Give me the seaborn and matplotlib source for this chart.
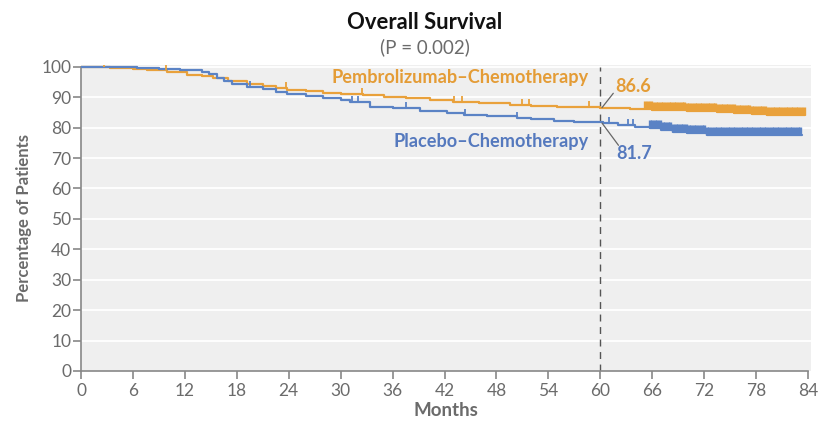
import numpy as np
import pandas as pd
import matplotlib
matplotlib.use("Agg")
import matplotlib.pyplot as plt
import seaborn as sns

# ---- data ----
pembro_months = [0, 3.3, 6, 7.6, 9.9, 12.2, 14, 15.3, 17, 19.2, 21, 22.5, 23.8, 26, 28, 30, 32.6, 35,
                 37.5, 40.3, 43, 46, 49.6, 52, 55, 57.5, 60, 62, 63.4, 66, 68, 70, 71.5, 73.5, 75.5,
                 77.5, 79.3, 83.6]
pembro_surv = [100, 99.7, 99.3, 99.0, 98.2, 97.4, 96.9, 96.3, 95.4, 94.3, 93.6, 92.9, 92.4, 91.9, 91.5,
               91.1, 90.8, 90.2, 89.6, 89.1, 88.6, 88.0, 87.5, 87.2, 86.9, 86.8, 86.6, 86.4, 86.1, 85.9,
               85.7, 85.5, 85.4, 85.1, 84.9, 84.6, 84.3, 84.3]

placebo_months = [0, 6.5, 9, 11.4, 14, 14.8, 15.7, 16.5, 17.5, 19.2, 21, 22.5, 23.8, 26, 28, 30, 31.1,
                  33.4, 36, 39.2, 42.3, 44.2, 46.9, 50.4, 52, 54.6, 57, 59.2, 60.3, 62, 64, 65.7, 67,
                  68.4, 70, 72.3, 83.3]
placebo_surv = [100, 99.5, 99.3, 99.0, 98.3, 97.5, 96.2, 95.2, 94.5, 93.5, 92.6, 91.8, 91.1, 90.5, 89.8,
                89.2, 88.4, 86.9, 86.6, 85.6, 84.7, 84.2, 83.7, 83.1, 82.7, 82.3, 82.0, 81.7, 81.4, 80.8,
                80.1, 79.8, 79.2, 78.7, 78.2, 77.7, 77.7]

# censoring times: sparse early marks and the dense cluster after ~65 months
pembro_censor_early = [2.7, 9.8, 23.7, 32.5, 43.1, 44.0, 51.0, 51.8, 58.7]
pembro_censor_late = [65.2, 65.5, 65.8, 66.1, 66.4, 66.7, 67.0, 67.3, 67.6, 67.9, 68.2, 68.5, 68.8, 69.1,
                      69.4, 69.7, 70.0, 70.3, 70.6, 70.9, 71.2, 71.5, 71.8, 72.1, 72.4, 72.7, 73.0, 73.3,
                      73.6, 73.9, 74.2, 74.5, 74.8, 75.1, 75.4, 75.7, 76.0, 76.3, 76.6, 76.9, 77.2, 77.5,
                      77.8, 78.1, 78.4, 78.7, 79.0, 79.3, 79.6, 79.9, 80.2, 80.5, 80.8, 81.1, 81.4, 81.7,
                      82.0, 82.3, 82.6, 82.9, 83.2, 83.5]
placebo_censor_early = [19.5, 31.3, 32.0, 37.5, 44.4, 50.4, 61.0, 63.2, 63.8]
placebo_censor_late = [65.7, 66.0, 66.3, 66.6, 66.9, 67.2, 67.5, 67.8, 68.1, 68.4, 68.7, 69.0, 69.3, 69.6,
                       69.9, 70.2, 70.5, 70.8, 71.1, 71.4, 71.7, 72.0, 72.3, 72.6, 72.9, 73.2, 73.5, 73.8,
                       74.1, 74.4, 74.7, 75.0, 75.3, 75.6, 75.9, 76.2, 76.5, 76.8, 77.1, 77.4, 77.7, 78.0,
                       78.3, 78.6, 78.9, 79.2, 79.5, 79.8, 80.1, 80.4, 80.7, 81.0, 81.3, 81.6, 81.9, 82.2,
                       82.5, 82.8, 83.1]

x_ticks = [0, 6, 12, 18, 24, 30, 36, 42, 48, 54, 60, 66, 72, 78, 84]
y_ticks = [0, 10, 20, 30, 40, 50, 60, 70, 80, 90, 100]
landmark_month = 60
pembro_landmark = 86.6
placebo_landmark = 81.7

ORANGE = "#E9A13B"
BLUE = "#5B83C5"
ORANGE_T = "#E49C36"
BLUE_T = "#5579BE"
GRAY_T = "#6B6B6B"
PEMBRO = "Pembrolizumab–Chemotherapy"
PLACEBO = "Placebo–Chemotherapy"

sns.set_theme(style="white")
plt.rcParams["font.family"] = ["Lato", "DejaVu Sans"]

fig = plt.figure(figsize=(8.27, 4.21), dpi=100)
ax = fig.add_axes([0.098, 0.1188, 0.8827, 0.7268])
ax.set_facecolor("#EFEFEF")

df = pd.concat([
    pd.DataFrame({"month": pembro_months, "surv": pembro_surv, "arm": PEMBRO}),
    pd.DataFrame({"month": placebo_months, "surv": placebo_surv, "arm": PLACEBO}),
])
palette = {PEMBRO: ORANGE, PLACEBO: BLUE}

for y in y_ticks[1:]:
    ax.axhline(y, color="white", lw=1.3, zorder=0.5)

sns.lineplot(data=df, x="month", y="surv", hue="arm", palette=palette, drawstyle="steps-post",
             lw=1.6, legend=False, ax=ax, zorder=3, estimator=None, sort=False)


def step_val(months, surv, t):
    idx = np.searchsorted(np.asarray(months), np.asarray(t), side="right") - 1
    return np.asarray(surv)[idx]


tick_marker = [(0, 0), (0, 1)]
censor_sets = [
    (PEMBRO, pembro_months, pembro_surv, pembro_censor_early, 1.3, 85),
    (PEMBRO, pembro_months, pembro_surv, pembro_censor_late, 2.4, 120),
    (PLACEBO, placebo_months, placebo_surv, placebo_censor_early, 1.3, 85),
    (PLACEBO, placebo_months, placebo_surv, placebo_censor_late, 2.4, 120),
]
for arm, m, s, times, lw, size in censor_sets:
    sub = pd.DataFrame({"month": times, "surv": step_val(m, s, times)})
    sns.scatterplot(data=sub, x="month", y="surv", marker=tick_marker, s=size, linewidth=lw,
                    color=palette[arm], edgecolor=palette[arm], legend=False, ax=ax, zorder=4)

ax.axvline(landmark_month, ymin=0, ymax=100 / 100.6, color="#555555", lw=1.0, ls=(0, (5, 4)), zorder=2)

ax.set_xlim(0, 84.35)
ax.set_ylim(0, 100.6)
ax.set_xticks(x_ticks)
ax.set_yticks(y_ticks)
ax.set_xticklabels([str(v) for v in x_ticks])
ax.set_yticklabels([str(v) for v in y_ticks])
for sp in ["top", "right"]:
    ax.spines[sp].set_visible(False)
for sp in ["left", "bottom"]:
    ax.spines[sp].set_color("#888888")
    ax.spines[sp].set_linewidth(1.2)
ax.spines["left"].set_bounds(0, 100)
ax.spines["bottom"].set_bounds(0, 84)
ax.tick_params(axis="both", which="both", length=6, width=1.2, color="#888888",
               labelcolor=GRAY_T, labelsize=12.5, direction="out", bottom=True, left=True)
ax.tick_params(axis="x", pad=3)
ax.tick_params(axis="y", pad=1)

ax.set_xlabel("Months", fontsize=13.5, fontweight="bold", color=GRAY_T, labelpad=2)
ax.set_ylabel("Percentage of Patients", fontsize=12, fontweight="bold", color=GRAY_T, labelpad=7)

fig.text(0.514, 0.947, "Overall Survival", ha="center", va="center", fontsize=15.8,
         fontweight="bold", color="#111111")
fig.text(0.514, 0.887, "(P = 0.002)", ha="center", va="center", fontsize=13.5, color=GRAY_T)

ax.text(58.6, 96.4, PEMBRO, ha="right", va="center", fontsize=13.1,
        fontweight="bold", color=ORANGE_T)
ax.text(58.6, 75.3, PLACEBO, ha="right", va="center", fontsize=13.1,
        fontweight="bold", color=BLUE_T)
ax.text(61.7, 93.6, f"{pembro_landmark}", ha="left", va="center", fontsize=13,
        fontweight="bold", color=ORANGE_T)
ax.text(61.9, 71.6, f"{placebo_landmark}", ha="left", va="center", fontsize=13,
        fontweight="bold", color=BLUE_T)
ax.plot([landmark_month + 0.2, 61.5], [pembro_landmark, 91.3], color="#666666", lw=0.9, zorder=5)
ax.plot([landmark_month + 0.2, 62.1], [placebo_landmark - 0.2, 74.2], color="#666666", lw=0.9, zorder=5)

fig.savefig("out.png", dpi=100)
